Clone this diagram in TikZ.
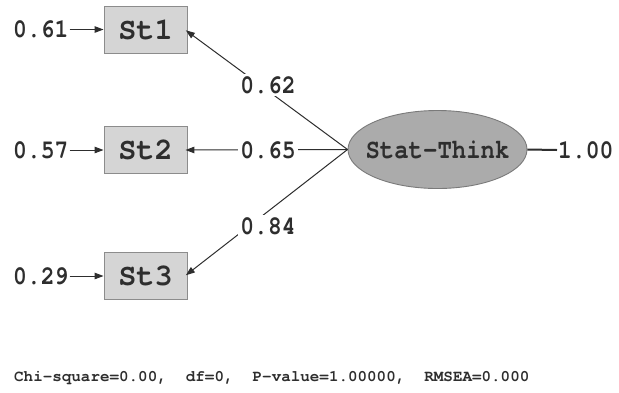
\documentclass[tikz,border=0pt]{standalone}
\usepackage{fontspec}
\usepackage{graphicx}
\newfontfamily\cour{TeX Gyre Cursor}
\usetikzlibrary{shapes.geometric,arrows.meta}
\definecolor{ink}{HTML}{2E2E2E}
\definecolor{boxfill}{HTML}{D5D5D5}
\definecolor{boxline}{HTML}{8C8C8C}
\definecolor{ellfill}{HTML}{ABABAB}
\definecolor{ellline}{HTML}{7A7A7A}
\newcommand{\tall}[1]{\scalebox{1}[1.15]{#1}}
\begin{document}
\begin{tikzpicture}[x=1pt,y=-1pt,
  obs/.style={rectangle, draw=boxline, line width=0.9pt, fill=boxfill,
    minimum width=83pt, minimum height=47pt, inner sep=0pt,
    text=ink, font=\cour\bfseries\fontsize{28}{30}\selectfont},
  latent/.style={ellipse, draw=ellline, line width=0.9pt, fill=ellfill,
    minimum width=179pt, minimum height=78pt, inner sep=0pt,
    text=ink, font=\cour\bfseries\fontsize{24}{27}\selectfont},
  num/.style={inner sep=1pt, text=ink, font=\cour\bfseries\fontsize{23}{26}\selectfont},
  lab/.style={num, fill=white, inner sep=2pt},
  arr/.style={draw=ink, line width=1pt, -{Triangle[length=9pt,width=6.5pt]}},
  foot/.style={inner sep=0pt, text=ink, font=\cour\bfseries\fontsize{15.9}{18}\selectfont}
]
\useasboundingbox (0,0) rectangle (619,392);
\fill[white] (0,0) rectangle (619,392);

% observed indicators
\node[obs] (st1) at (145.5,29.5) {\scalebox{1.08}[1.1]{St1}};
\node[obs] (st2) at (145.5,150) {\scalebox{1.08}[1.1]{St2}};
\node[obs] (st3) at (145.5,276) {\scalebox{1.08}[1.1]{St3}};

% latent factor
\node[latent] (lat) at (437.5,149.5) {\makebox[0pt]{\tall{Stat-Think}}};

% error variances
\node[num, anchor=west] (e1) at (12,29.5) {\tall{0.61}};
\node[num, anchor=west] (e2) at (12,150) {\tall{0.57}};
\node[num, anchor=west] (e3) at (12,276) {\tall{0.29}};
\draw[arr] (e1) -- (st1);
\draw[arr] (e2) -- (st2);
\draw[arr] (e3) -- (st3);

% loadings
\draw[arr, shorten >=-2pt] (lat.west) -- ([yshift=-2pt]st1.east);
\draw[arr, shorten >=-2pt] (lat.west) -- (st2.east);
\draw[arr, shorten >=-2pt] (lat.west) -- ([yshift=2pt]st3.east);
\node[lab] (l1) at (268,85) {\tall{0.62}};
\node[lab] (l2) at (268,150) {\tall{0.65}};
\node[lab] (l3) at (268,226) {\tall{0.84}};

% factor variance
\node[num, anchor=west] (v) at (557,150) {\tall{1.00}};
\draw[ink, line width=2pt] (lat.east) -- (v.west);

% fit statistics
\node[foot, anchor=west] (fit) at (14,378) {Chi-square=0.00,~~df=0,~~P-value=1.00000,~~RMSEA=0.000};
\end{tikzpicture}
\end{document}
